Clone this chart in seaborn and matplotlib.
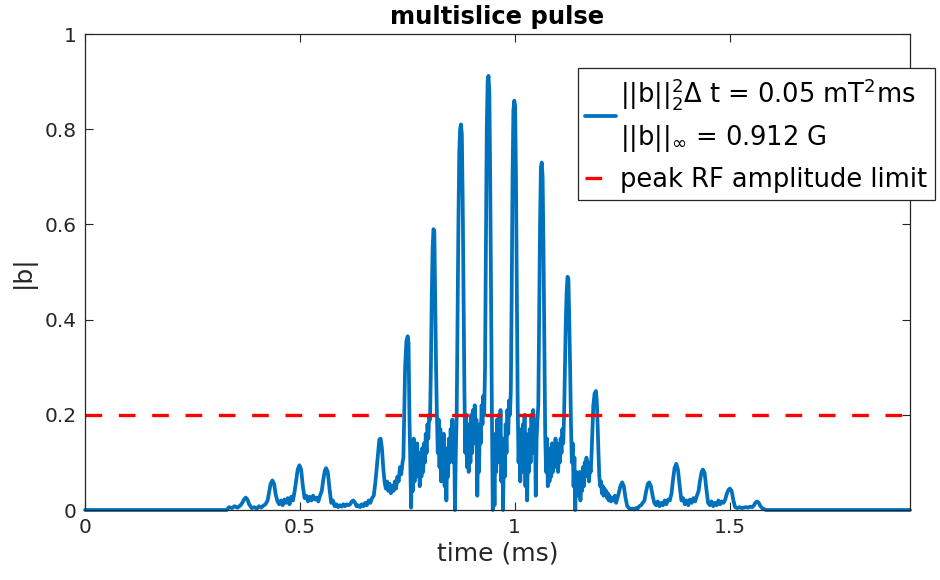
import matplotlib
matplotlib.use("Agg")
import matplotlib.pyplot as plt
import pandas as pd
import seaborn as sns

# ---- data ----
time_ms = [
    0.000, 0.330, 0.335, 0.342, 0.348, 0.355, 0.362,
    0.366, 0.370, 0.374, 0.378, 0.382, 0.388, 0.394, 0.400, 0.405, 0.410, 0.415, 0.420, 0.425,
    0.428, 0.432, 0.436, 0.440, 0.444, 0.448, 0.452, 0.456, 0.460, 0.464, 0.468, 0.472, 0.476, 0.480, 0.484, 0.488,
    0.491, 0.495, 0.499, 0.503, 0.507, 0.511, 0.515, 0.519, 0.523, 0.527, 0.531, 0.535, 0.539, 0.543, 0.547, 0.551,
    0.554, 0.558, 0.561, 0.565, 0.569, 0.573, 0.577, 0.581, 0.585, 0.589, 0.593, 0.597, 0.601, 0.605, 0.609, 0.613,
    0.617, 0.621, 0.624, 0.628, 0.632, 0.636, 0.640, 0.644, 0.648, 0.652, 0.656, 0.660, 0.664, 0.668, 0.672, 0.676,
    0.679, 0.682, 0.685, 0.688, 0.691, 0.694, 0.697, 0.700, 0.703, 0.706, 0.709, 0.712, 0.715, 0.718, 0.721, 0.724, 0.727, 0.730, 0.733, 0.736, 0.739,
    0.741, 0.743, 0.745, 0.748, 0.751, 0.753, 0.755, 0.757, 0.759, 0.761, 0.763, 0.765, 0.767, 0.769, 0.771, 0.773, 0.775, 0.777, 0.779, 0.781, 0.783, 0.785, 0.787, 0.789, 0.791, 0.793, 0.795, 0.797, 0.799, 0.801,
    0.803, 0.805, 0.807, 0.809, 0.811, 0.813, 0.815, 0.817, 0.819, 0.821, 0.823, 0.825, 0.827, 0.829, 0.831, 0.833, 0.835, 0.837, 0.839, 0.841, 0.843, 0.845, 0.847, 0.849, 0.851, 0.853, 0.855, 0.857, 0.859, 0.861, 0.863,
    0.865, 0.867, 0.869, 0.871, 0.873, 0.875, 0.877, 0.879, 0.881, 0.883, 0.885, 0.887, 0.889, 0.891, 0.893, 0.895, 0.897, 0.899, 0.901, 0.903, 0.905, 0.907, 0.909, 0.911, 0.913, 0.915, 0.917, 0.919, 0.921, 0.923, 0.925, 0.927, 0.929,
    0.931, 0.933, 0.935, 0.937, 0.939, 0.941, 0.943, 0.945, 0.947, 0.949, 0.951, 0.953, 0.955, 0.957, 0.959, 0.961, 0.963, 0.965, 0.967, 0.969, 0.971, 0.973, 0.975, 0.977, 0.979, 0.981, 0.983, 0.985, 0.987, 0.989, 0.991,
    0.993, 0.995, 0.997, 0.999, 1.001, 1.003, 1.005, 1.007, 1.009, 1.011, 1.013, 1.015, 1.017, 1.019, 1.021, 1.023, 1.025, 1.027, 1.029, 1.031, 1.033, 1.035, 1.037, 1.039, 1.041, 1.043, 1.045, 1.047, 1.049, 1.051, 1.053, 1.055,
    1.057, 1.059, 1.061, 1.063, 1.065, 1.067, 1.069, 1.071, 1.073, 1.075, 1.077, 1.079, 1.081, 1.083, 1.085, 1.087, 1.089, 1.091, 1.093, 1.095, 1.097, 1.099, 1.101, 1.103, 1.105, 1.107, 1.109, 1.111, 1.113, 1.115,
    1.117, 1.119, 1.121, 1.123, 1.125, 1.127, 1.129, 1.131, 1.133, 1.135, 1.137, 1.139, 1.141, 1.143, 1.145, 1.147, 1.149, 1.151, 1.153, 1.155, 1.157, 1.159, 1.161, 1.163, 1.165, 1.167, 1.169, 1.171, 1.173, 1.175, 1.177, 1.179,
    1.181, 1.183, 1.186, 1.189, 1.191, 1.193, 1.195, 1.197, 1.199, 1.201, 1.203, 1.205, 1.207, 1.209, 1.211, 1.213, 1.215, 1.217, 1.219, 1.221, 1.224, 1.227, 1.230, 1.233, 1.236, 1.239,
    1.242, 1.246, 1.250, 1.254, 1.258, 1.262, 1.266, 1.270, 1.274, 1.278, 1.282, 1.286, 1.290, 1.294, 1.298, 1.302,
    1.306, 1.310, 1.313, 1.317, 1.321, 1.325, 1.329, 1.333, 1.337, 1.341, 1.345, 1.349, 1.353, 1.357, 1.361, 1.365,
    1.368, 1.372, 1.376, 1.380, 1.384, 1.388, 1.392, 1.396, 1.400, 1.404, 1.408, 1.412, 1.416, 1.420, 1.424, 1.428,
    1.431, 1.435, 1.438, 1.442, 1.446, 1.450, 1.454, 1.458, 1.462, 1.466, 1.470, 1.474, 1.478, 1.482, 1.486, 1.490,
    1.494, 1.498, 1.501, 1.505, 1.509, 1.513, 1.518, 1.523, 1.528, 1.533, 1.538, 1.543, 1.548, 1.553, 1.557, 1.560,
    1.564, 1.568, 1.572, 1.576, 1.580, 1.585, 1.920,
]
b_mag = [
    0.000, 0.000, 0.006, 0.004, 0.008, 0.005, 0.010,
    0.015, 0.022, 0.026, 0.022, 0.012, 0.004, 0.006, 0.003, 0.008, 0.005, 0.009, 0.012, 0.020,
    0.035, 0.055, 0.062, 0.055, 0.032, 0.018, 0.012, 0.020, 0.010, 0.022, 0.015, 0.025, 0.012, 0.028, 0.020, 0.040,
    0.060, 0.085, 0.094, 0.085, 0.050, 0.025, 0.030, 0.018, 0.028, 0.020, 0.030, 0.022, 0.026, 0.018, 0.030, 0.040,
    0.060, 0.082, 0.088, 0.080, 0.045, 0.015, 0.020, 0.008, 0.012, 0.006, 0.010, 0.007, 0.012, 0.008, 0.012, 0.010,
    0.012, 0.018, 0.020, 0.016, 0.008, 0.010, 0.006, 0.012, 0.008, 0.015, 0.010, 0.020, 0.015, 0.025, 0.030, 0.060,
    0.090, 0.120, 0.148, 0.150, 0.130, 0.090, 0.060, 0.045, 0.060, 0.040, 0.055, 0.035, 0.050, 0.040, 0.060, 0.045, 0.070, 0.060, 0.090, 0.075, 0.100,
    0.110, 0.200, 0.300, 0.355, 0.365, 0.350, 0.200, 0.100, 0.005, 0.120, 0.040, 0.150, 0.060, 0.130, 0.070, 0.140, 0.080, 0.120, 0.050, 0.110, 0.070, 0.130, 0.080, 0.140, 0.100, 0.160, 0.120, 0.180, 0.150, 0.200,
    0.190, 0.300, 0.450, 0.550, 0.590, 0.585, 0.450, 0.300, 0.200, 0.120, 0.190, 0.090, 0.170, 0.060, 0.150, 0.100, 0.160, 0.050, 0.130, 0.020, 0.120, 0.070, 0.150, 0.100, 0.170, 0.120, 0.190, 0.100, 0.160, 0.000, 0.120,
    0.200, 0.400, 0.600, 0.750, 0.800, 0.810, 0.790, 0.650, 0.450, 0.250, 0.120, 0.200, 0.090, 0.180, 0.080, 0.160, 0.100, 0.200, 0.120, 0.210, 0.140, 0.220, 0.160, 0.190, 0.030, 0.140, 0.080, 0.180, 0.140, 0.220, 0.180, 0.240, 0.200,
    0.300, 0.550, 0.800, 0.900, 0.912, 0.880, 0.700, 0.450, 0.200, 0.000, 0.150, 0.010, 0.160, 0.080, 0.190, 0.100, 0.200, 0.120, 0.210, 0.060, 0.150, 0.000, 0.140, 0.070, 0.180, 0.120, 0.210, 0.160, 0.230, 0.200, 0.250,
    0.450, 0.700, 0.840, 0.860, 0.850, 0.700, 0.450, 0.220, 0.100, 0.170, 0.060, 0.150, 0.080, 0.180, 0.100, 0.200, 0.050, 0.160, 0.020, 0.130, 0.080, 0.170, 0.100, 0.200, 0.140, 0.210, 0.120, 0.190, 0.030, 0.150, 0.190, 0.220,
    0.400, 0.600, 0.720, 0.730, 0.700, 0.550, 0.350, 0.160, 0.080, 0.150, 0.050, 0.130, 0.060, 0.120, 0.070, 0.140, 0.080, 0.130, 0.090, 0.150, 0.100, 0.140, 0.080, 0.120, 0.100, 0.150, 0.120, 0.170, 0.140, 0.200,
    0.300, 0.400, 0.460, 0.490, 0.485, 0.400, 0.300, 0.180, 0.100, 0.140, 0.050, 0.110, 0.000, 0.080, 0.030, 0.070, 0.040, 0.080, 0.020, 0.070, 0.040, 0.090, 0.050, 0.100, 0.070, 0.110, 0.090, 0.100, 0.060, 0.090, 0.080, 0.120,
    0.170, 0.220, 0.245, 0.250, 0.230, 0.180, 0.120, 0.070, 0.050, 0.060, 0.035, 0.050, 0.030, 0.045, 0.035, 0.040, 0.025, 0.035, 0.020, 0.030, 0.018, 0.025, 0.020, 0.030, 0.015, 0.025,
    0.035, 0.050, 0.058, 0.050, 0.025, 0.008, 0.004, 0.002, 0.003, 0.001, 0.004, 0.003, 0.008, 0.010, 0.015, 0.020,
    0.040, 0.055, 0.058, 0.050, 0.030, 0.015, 0.010, 0.018, 0.008, 0.015, 0.010, 0.020, 0.012, 0.022, 0.020, 0.035,
    0.060, 0.088, 0.097, 0.085, 0.050, 0.020, 0.025, 0.012, 0.020, 0.010, 0.022, 0.015, 0.025, 0.018, 0.030, 0.040,
    0.060, 0.080, 0.085, 0.078, 0.045, 0.015, 0.010, 0.018, 0.008, 0.015, 0.010, 0.020, 0.012, 0.018, 0.015, 0.022,
    0.035, 0.043, 0.045, 0.040, 0.020, 0.006, 0.004, 0.006, 0.004, 0.005, 0.006, 0.005, 0.007, 0.006, 0.010, 0.015,
    0.018, 0.015, 0.008, 0.004, 0.002, 0.000, 0.000,
]
rf_limit = 0.2
x_ticks = [0, 0.5, 1, 1.5]
x_tick_labels = ["0", "0.5", "1", "1.5"]
y_ticks = [0, 0.2, 0.4, 0.6, 0.8, 1]
y_tick_labels = ["0", "0.2", "0.4", "0.6", "0.8", "1"]
label_b = "||b||$_2^2$Δ t = 0.05 mT$^2$ms\n||b||$_\\infty$ = 0.912 G"
label_limit = "peak RF amplitude limit"
title = "multislice pulse"
x_label = "time (ms)"
y_label = "|b|"

assert len(time_ms) == len(b_mag), (len(time_ms), len(b_mag))

sns.set_theme(style="white")
plt.rcParams["font.family"] = ["DejaVu Sans"]
plt.rcParams["mathtext.fontset"] = "dejavusans"
text_c = "#262626"

fig = plt.figure(figsize=(9.4, 5.8), dpi=100)
ax = fig.add_axes([85 / 940, 70 / 580, 825 / 940, 476 / 580])

df = pd.DataFrame({"time": time_ms, "b": b_mag})
sns.lineplot(data=df, x="time", y="b", ax=ax, color="#0072BD", linewidth=2.7,
             estimator=None, sort=False, label=label_b)
ax.lines[0].set_clip_on(False)
ax.axhline(rf_limit, color="#FF0000", linewidth=2.4, linestyle=(0, (5.0, 5.0)),
           label=label_limit)

ax.set_xlim(0, 1.92)
ax.set_ylim(0, 1)
ax.set_xticks(x_ticks, x_tick_labels)
ax.set_yticks(y_ticks, y_tick_labels)
ax.tick_params(direction="in", length=6, width=0.8, colors=text_c, labelsize=14.5,
               top=True, right=True, bottom=True, left=True, pad=6)
for s in ax.spines.values():
    s.set_color(text_c)
    s.set_linewidth(0.9)
    s.set_visible(True)

ax.set_title(title, fontsize=17.5, fontweight="bold", color="black", pad=7)
ax.set_xlabel(x_label, fontsize=18, color=text_c, labelpad=3)
ax.set_ylabel(y_label, fontsize=18, color=text_c, labelpad=6)

leg = ax.legend(loc="upper right", bbox_to_anchor=(935 / 940, (580 - 68) / 580),
                bbox_transform=fig.transFigure, frameon=True, fancybox=False,
                edgecolor=text_c, framealpha=1, fontsize=18.5, handlelength=1.2,
                handletextpad=0.15, borderpad=0.3, borderaxespad=0, labelspacing=0.5)
leg.get_frame().set_linewidth(0.9)
for t in leg.get_texts():
    t.set_color("black")
leg.get_texts()[0].set_linespacing(1.5)

fig.savefig("out.png", dpi=100)
